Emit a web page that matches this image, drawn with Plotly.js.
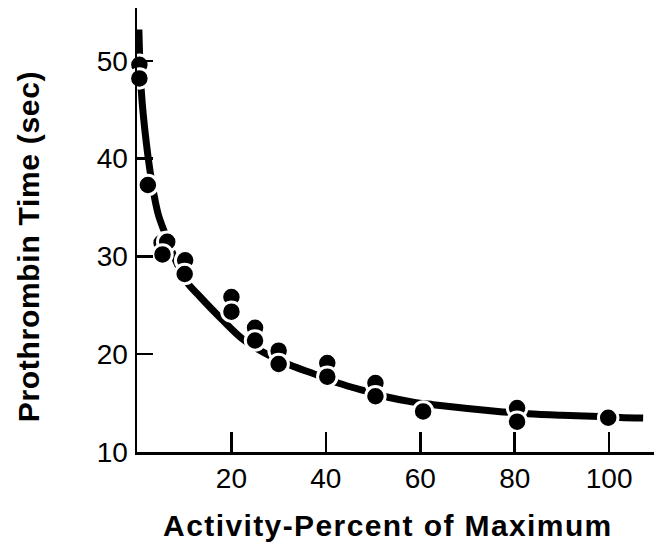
<!DOCTYPE html>
<html>
<head>
<meta charset="utf-8">
<script src="https://cdn.plot.ly/plotly-3.0.1.min.js"></script>
<style>html,body{margin:0;padding:0;background:#fff;}#chart{width:659px;height:548px;}</style>
</head>
<body>
<div id="chart"></div>
<script>
// Fitted curve
const curveX = [0.4, 0.9, 2.0, 3.2, 4.5, 5.9, 8.0, 10.5, 13.3, 17.9, 22.5, 27.7, 32.4, 38, 42.6, 48.6, 53.2, 58.5, 62.7, 70, 77.5, 82.8, 90, 98, 102.3, 107.2];
const curveY = [53.2, 47.0, 41.5, 37.4, 34.3, 32.4, 29.8, 27.4, 25.9, 23.6, 21.5, 19.95, 18.9, 17.9, 17.05, 16.2, 15.6, 15.1, 14.84, 14.45, 14.1, 13.9, 13.75, 13.64, 13.54, 13.48];

// Measured points (activity %, prothrombin time sec)
const pointX = [0.5, 0.5, 2.3, 5.2, 6.4, 5.4, 10.2, 10.1, 20, 20, 25, 25, 30, 30, 40.3, 40.3, 50.5, 50.5, 60.6, 80.5, 80.5, 99.8];
const pointY = [49.6, 48.2, 37.3, 31.4, 31.5, 30.2, 29.6, 28.2, 25.85, 24.35, 22.7, 21.4, 20.36, 19.0, 19.1, 17.7, 17.05, 15.7, 14.15, 14.5, 13.1, 13.5];

const xTicks = [20, 40, 60, 80, 100];
const yTicks = [10, 20, 30, 40, 50];
const xTitle = 'Activity-Percent of Maximum';
const yTitle = 'Prothrombin Time (sec)';

const FONT = '"Liberation Sans", Arial, Helvetica, sans-serif';

const traces = [
  {
    x: curveX, y: curveY, type: 'scatter', mode: 'lines',
    line: {color: '#000', width: 7, shape: 'spline', smoothing: 1},
    hoverinfo: 'skip', cliponaxis: false
  },
  {
    x: pointX, y: pointY, type: 'scatter', mode: 'markers',
    marker: {color: '#000', size: 19.5, line: {color: '#fff', width: 3}},
    cliponaxis: false
  }
];

const layout = {
  width: 659, height: 548,
  margin: {l: 137.3, r: 4.7, t: 8, b: 95.7},
  paper_bgcolor: '#fff', plot_bgcolor: '#fff',
  showlegend: false,
  font: {family: FONT, color: '#000'},
  xaxis: {
    range: [0, 109.5], showgrid: false, zeroline: false,
    showline: true, linecolor: '#000', linewidth: 2.5,
    tickmode: 'array', tickvals: xTicks, ticktext: xTicks.map(String),
    ticks: 'inside', ticklen: 20, tickwidth: 2.5, tickcolor: '#000',
    ticklabelstandoff: 0,
    tickfont: {family: FONT, size: 28, color: '#000'}
  },
  yaxis: {
    range: [10, 55.4], showgrid: false, zeroline: false,
    showline: true, linecolor: '#000', linewidth: 2.5,
    tickmode: 'array', tickvals: yTicks, ticktext: yTicks.map(String),
    ticks: 'inside', ticklen: 16, tickwidth: 2.5, tickcolor: '#000',
    ticklabelstandoff: 1,
    tickfont: {family: FONT, size: 28, color: '#000'}
  },
  annotations: [
    {text: xTitle, xref: 'paper', yref: 'paper', x: 0.486, y: -0.166,
     xanchor: 'center', yanchor: 'middle', showarrow: false,
     font: {family: FONT, size: 30, weight: 700, color: '#000'}},
    {text: yTitle, xref: 'paper', yref: 'paper', x: -0.2095, y: 0.462,
     xanchor: 'center', yanchor: 'middle', showarrow: false, textangle: -90,
     font: {family: FONT, size: 30, weight: 700, color: '#000'}}
  ]
};

Plotly.newPlot('chart', traces, layout, {displayModeBar: false, staticPlot: true}).then(function () {
  const t = document.querySelectorAll('.annotation-text');
  if (t[0]) t[0].style.letterSpacing = '1.4px';
  if (t[1]) t[1].style.letterSpacing = '0.7px';
});
</script>
</body>
</html>
